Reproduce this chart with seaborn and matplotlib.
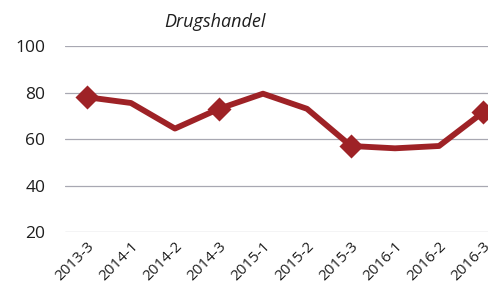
import matplotlib
matplotlib.use("Agg")
import matplotlib.pyplot as plt
import seaborn as sns
import pandas as pd

# ======== DATA ========
periods = ["2013-3", "2014-1", "2014-2", "2014-3", "2015-1",
           "2015-2", "2015-3", "2016-1", "2016-2", "2016-3"]
values = [78, 75.5, 64.5, 73, 79.5, 73, 57, 56, 57, 71.5]
marked = ["2013-3", "2014-3", "2015-3", "2016-3"]
y_ticks = [20, 40, 60, 80, 100]

df = pd.DataFrame({"period": periods, "value": values})
df["x"] = range(len(periods))
marks = df[df["period"].isin(marked)]

# ======== STYLE ========
sns.set_theme(style="white")
plt.rcParams["font.family"] = ["Open Sans", "DejaVu Sans"]
RED = "#9e2226"

fig = plt.figure(figsize=(4.88, 2.98), dpi=100)
ax = fig.add_axes([0.133, 0.2215, 0.902, 0.624])

sns.lineplot(data=df, x="x", y="value", color=RED, linewidth=4.2, ax=ax, zorder=3)
sns.scatterplot(data=marks, x="x", y="value", color=RED, marker="D", s=150,
                edgecolor=RED, linewidth=0, ax=ax, zorder=4)

ax.set_xlim(-0.5, len(periods) - 0.5)
ax.set_ylim(20, 100)
ax.set_yticks(y_ticks)
ax.set_xticks(df["x"])
ax.set_xticklabels(periods, rotation=45, ha="right", rotation_mode="anchor")
ax.tick_params(axis="x", labelsize=11, pad=5, colors="#1e1e1e", length=0)
ax.tick_params(axis="y", labelsize=12.5, pad=14, colors="#1e1e1e", length=0)
ax.yaxis.grid(True, color="#a8a8b2", linewidth=0.9)
ax.set_xlabel("")
ax.set_ylabel("")
for s in ax.spines.values():
    s.set_visible(False)

fig.text(0.44, 0.925, "Drugshandel", style="italic", fontsize=13,
         ha="center", va="center", color="#1e1e1e")

plt.savefig("out.png", dpi=100)
